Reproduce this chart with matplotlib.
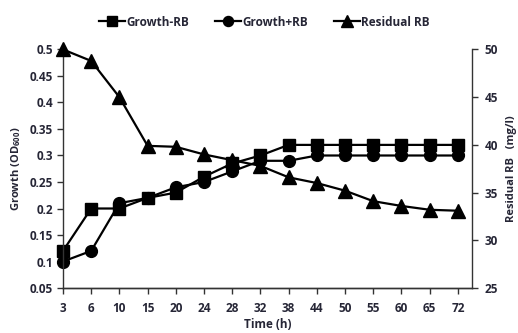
import matplotlib
matplotlib.use('Agg')
import matplotlib.pyplot as plt

# time points (categorical axis)
time_labels = ['3', '6', '10', '15', '20', '24', '28', '32', '38', '44', '50', '55', '60', '65', '72']

growth_minus_rb = [0.12, 0.20, 0.20, 0.22, 0.23, 0.26, 0.285, 0.30, 0.32, 0.32, 0.32, 0.32, 0.32, 0.32, 0.32]
growth_plus_rb = [0.10, 0.12, 0.21, 0.22, 0.24, 0.25, 0.27, 0.29, 0.29, 0.30, 0.30, 0.30, 0.30, 0.30, 0.30]
residual_rb = [50.0, 48.8, 45.0, 39.9, 39.8, 39.0, 38.4, 37.8, 36.6, 36.0, 35.2, 34.1, 33.6, 33.2, 33.1]

left_ticks = [0.05, 0.1, 0.15, 0.2, 0.25, 0.3, 0.35, 0.4, 0.45, 0.5]
right_ticks = [25, 30, 35, 40, 45, 50]

plt.rcParams['font.family'] = ['Open Sans', 'DejaVu Sans']
plt.rcParams['font.weight'] = 'bold'
plt.rcParams['mathtext.fontset'] = 'custom'
plt.rcParams['mathtext.bf'] = 'Open Sans:bold'
text_color = '#262636'

fig = plt.figure(figsize=(5.18, 3.33), dpi=100)
ax = fig.add_axes([0.1216, 0.1351, 0.7896, 0.7163])
ax2 = ax.twinx()

x = list(range(len(time_labels)))
lw = 1.6
l1, = ax.plot(x, growth_minus_rb, color='black', linewidth=lw, marker='s', markersize=8, label='Growth-RB', clip_on=False)
l2, = ax.plot(x, growth_plus_rb, color='black', linewidth=lw, marker='o', markersize=8.5, label='Growth+RB', clip_on=False)
l3, = ax2.plot(x, residual_rb, color='black', linewidth=lw, marker='^', markersize=10, label='Residual RB', clip_on=False)

ax.set_xlim(0, len(x) - 0.5)
ax.set_ylim(0.05, 0.5)
ax2.set_ylim(25, 50)
ax.set_xticks(x)
ax.set_xticklabels(time_labels)
ax.set_yticks(left_ticks)
ax.set_yticklabels(['%g' % t for t in left_ticks])
ax2.set_yticks(right_ticks)

for a in (ax, ax2):
    a.spines['top'].set_visible(False)
    for s in a.spines.values():
        s.set_linewidth(1.0)
        s.set_color('#333333')
    a.tick_params(direction='out', length=4, width=1, colors='#333333', labelsize=8.5,
                  labelcolor=text_color)
ax2.spines['left'].set_visible(False)
ax.spines['right'].set_visible(False)
ax.tick_params(axis='x', pad=6)
ax.tick_params(axis='y', pad=3)
ax2.tick_params(axis='y', pad=5)

ax.set_xlabel('Time (h)', fontsize=8.5, fontweight='bold', color=text_color, labelpad=2)
ax.set_ylabel('Growth (OD$_{\\mathbf{600}}$)', fontsize=8, fontweight='bold', color=text_color, labelpad=5)
ax2.set_ylabel('Residual RB   (mg/l)', fontsize=8, fontweight='bold', color=text_color,
               rotation=90, labelpad=6)

fig.legend(handles=[l1, l2, l3], loc='upper center', bbox_to_anchor=(0.51, 0.985), ncol=3,
           frameon=False, fontsize=8.5, handlelength=2.2, handletextpad=0.1, columnspacing=2.2,
           labelcolor=text_color, markerscale=0.85)

fig.savefig('out.png', dpi=100)
